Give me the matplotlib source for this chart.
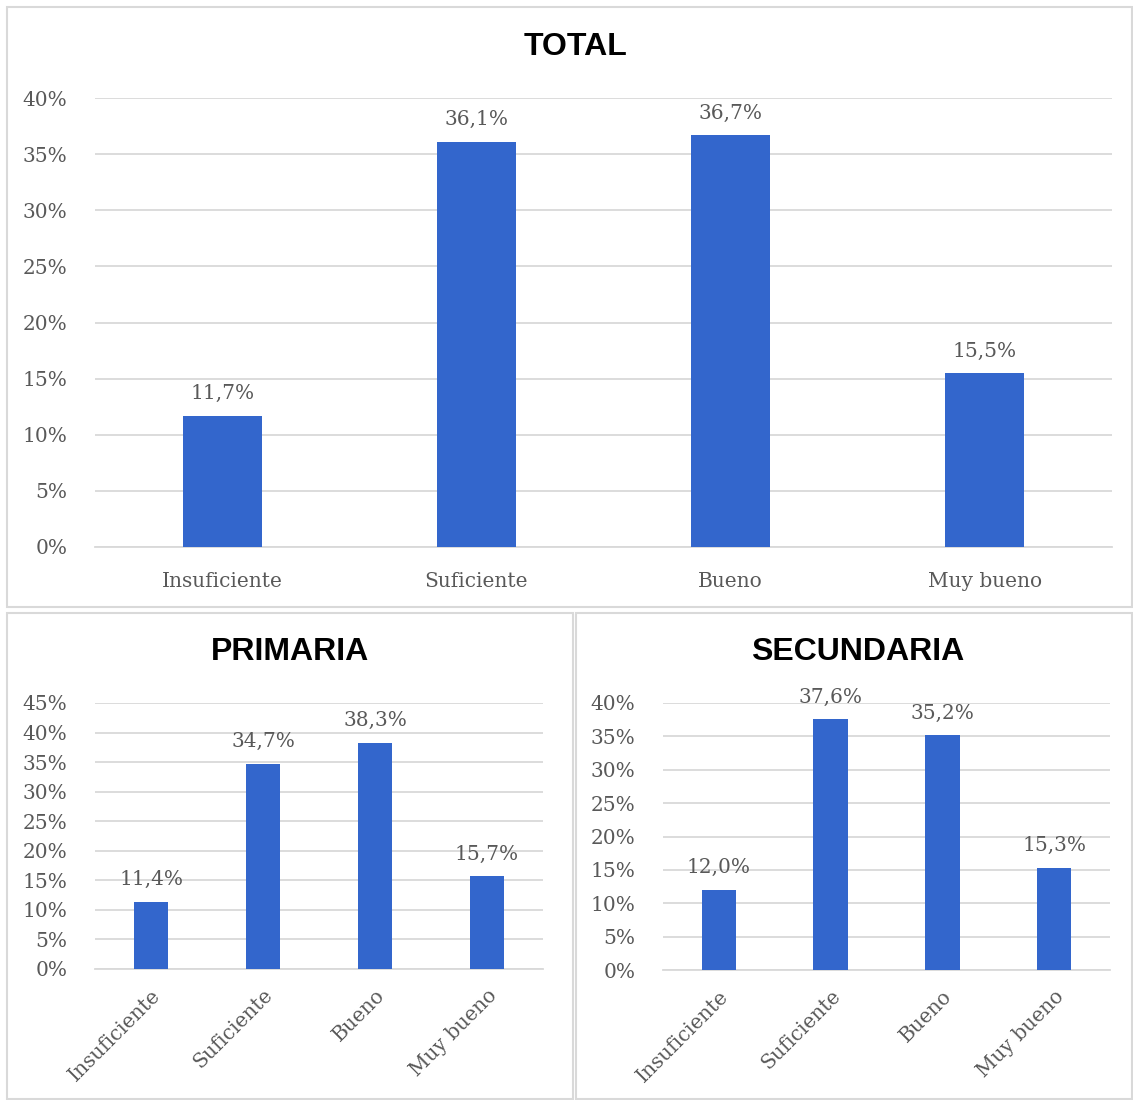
import matplotlib
matplotlib.use("Agg")
import matplotlib.pyplot as plt
from matplotlib.patches import Rectangle
from matplotlib.ticker import FuncFormatter, MultipleLocator

categories = ["Insuficiente", "Suficiente", "Bueno", "Muy bueno"]
total_vals = [11.7, 36.1, 36.7, 15.5]
primaria_vals = [11.4, 34.7, 38.3, 15.7]
secundaria_vals = [12.0, 37.6, 35.2, 15.3]

W, H = 1133, 1100
fig = plt.figure(figsize=(W / 100, H / 100), dpi=100)
fig.patch.set_facecolor("white")

BAR = "#3366CC"
GRID = "#D9D9D9"
TXT = "#595959"
SERIF = ["DejaVu Serif"]
SANS = ["Liberation Sans", "DejaVu Sans"]


def px_rect(x0, y0, x1, y1):
    return [x0 / W, 1 - y1 / H, (x1 - x0) / W, (y1 - y0) / H]


# panel borders
for (x0, y0, x1, y1) in [(7, 7, 1132, 607), (7, 613, 573, 1099), (576, 613, 1132, 1099)]:
    fig.patches.append(Rectangle((x0 / W, 1 - y1 / H), (x1 - x0) / W, (y1 - y0) / H,
                                 transform=fig.transFigure, fill=False,
                                 edgecolor="#D9D9D9", linewidth=1.5))


def make_ax(rect, vals, ymax, fs_tick, fs_lab, rotate):
    ax = fig.add_axes(px_rect(*rect))
    x = range(len(categories))
    bars = ax.bar(x, vals, width=0.31, color=BAR, zorder=3)
    ax.set_ylim(0, ymax)
    ax.set_xlim(-0.5, len(categories) - 0.5)
    ax.yaxis.set_major_locator(MultipleLocator(5))
    ax.yaxis.set_major_formatter(FuncFormatter(lambda v, p: f"{v:.0f}%"))
    ax.grid(axis="y", color=GRID, linewidth=1.3, zorder=0)
    for s in ["top", "right", "left"]:
        ax.spines[s].set_visible(False)
    ax.spines["bottom"].set_color(GRID)
    ax.spines["bottom"].set_linewidth(1.3)
    ax.tick_params(axis="both", length=0, colors=TXT, labelsize=fs_tick)
    ax.tick_params(axis="y", pad=20)
    ax.set_xticks(list(x))
    if rotate:
        ax.set_xticklabels(categories, rotation=45, ha="right", rotation_mode="anchor",
                           fontsize=fs_tick, family=SERIF, color=TXT)
        ax.tick_params(axis="x", pad=12)
    else:
        ax.set_xticklabels(categories, fontsize=fs_tick, family=SERIF, color=TXT)
        ax.tick_params(axis="x", pad=18)
    for lab in ax.get_yticklabels():
        lab.set_family(SERIF)
    for b, v in zip(bars, vals):
        ax.annotate(f"{v:.1f}%".replace(".", ","), (b.get_x() + b.get_width() / 2, v),
                    xytext=(0, 9), textcoords="offset points", ha="center", va="bottom",
                    fontsize=fs_lab, family=SERIF, color=TXT)
    return ax


make_ax((95, 98, 1112, 547), total_vals, 40, 14.5, 14.5, False)
make_ax((95, 703, 543, 969), primaria_vals, 45, 14.5, 14.5, True)
make_ax((663, 703, 1110, 970), secundaria_vals, 40, 14.5, 14.5, True)

fig.text(575 / W, 1 - 47 / H, "TOTAL", ha="center", va="center", fontsize=23,
         fontweight="bold", family=SANS, color="black")
fig.text(290 / W, 1 - 652 / H, "PRIMARIA", ha="center", va="center", fontsize=23,
         fontweight="bold", family=SANS, color="black")
fig.text(858 / W, 1 - 652 / H, "SECUNDARIA", ha="center", va="center", fontsize=23,
         fontweight="bold", family=SANS, color="black")

fig.savefig("out.png", dpi=100, facecolor="white")
